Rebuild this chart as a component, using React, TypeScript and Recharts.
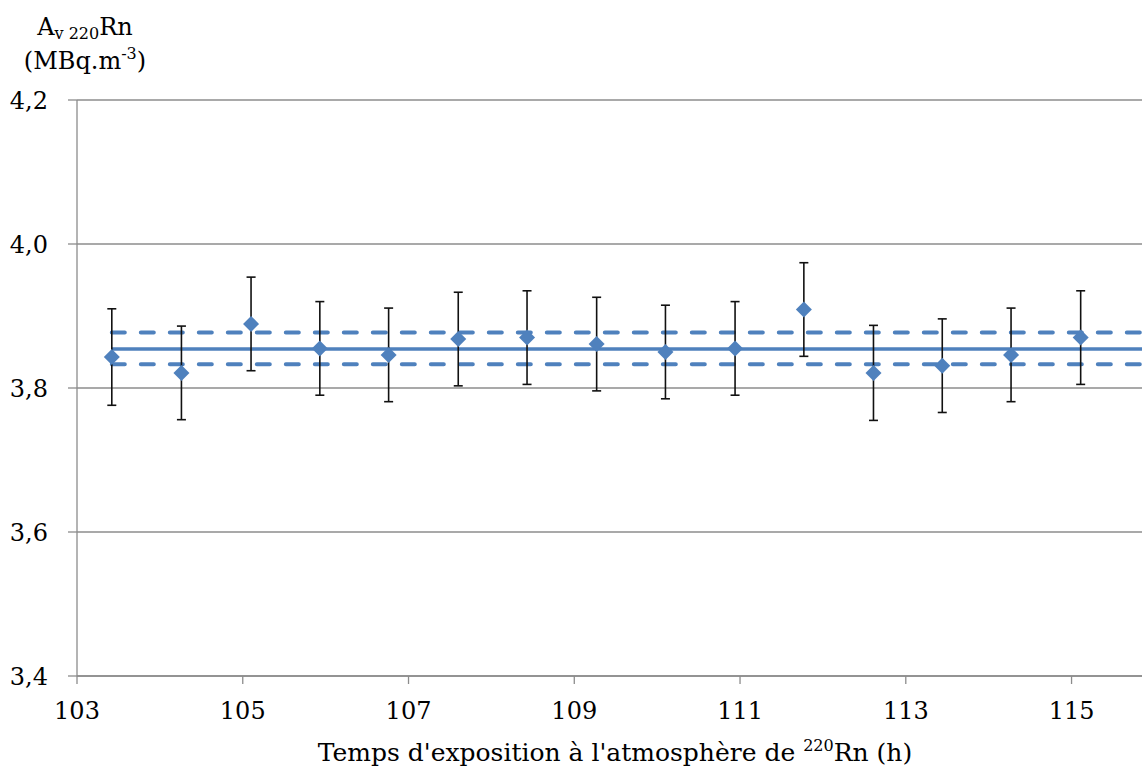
import React from 'react'
import {
  ComposedChart,
  Scatter,
  XAxis,
  YAxis,
  CartesianGrid,
  ErrorBar,
  ReferenceLine,
  Label,
} from 'recharts'

document.body.style.margin = '0'

// exposure time (h)
const exposureHours = [
  103.42, 104.26, 105.1, 105.93, 106.76, 107.6, 108.43, 109.27,
  110.1, 110.94, 111.77, 112.61, 113.44, 114.27, 115.11,
]
// volumic activity of 220Rn (MBq.m-3)
const activity = [
  3.843, 3.821, 3.889, 3.855, 3.846, 3.868, 3.87, 3.861,
  3.85, 3.855, 3.909, 3.821, 3.831, 3.846, 3.87,
]
// half width of each error bar
const activityError = [
  0.067, 0.065, 0.065, 0.065, 0.065, 0.065, 0.065, 0.065,
  0.065, 0.065, 0.065, 0.066, 0.065, 0.065, 0.065,
]

const meanActivity = 3.854
const meanUpper = 3.877
const meanLower = 3.833

const xTicks = [103, 105, 107, 109, 111, 113, 115]
const yTicks = [3.4, 3.6, 3.8, 4.0, 4.2]
const xMin = 103
const xMax = 115.85

const points = exposureHours.map((x, i) => ({ x, y: activity[i], err: activityError[i] }))

const BLUE = '#4F81BD'
const GRID = '#8C8C8C'
const FONT = 'DejaVu Serif'

const Diamond = (props: any) => {
  const { cx, cy } = props
  const r = 8
  return (
    <polygon
      points={`${cx},${cy - r} ${cx + r},${cy} ${cx},${cy + r} ${cx - r},${cy}`}
      fill={BLUE}
    />
  )
}

const YTitle = () => {
  const cx = 85
  return (
    <g fontFamily={FONT} fill="#000">
      <text x={cx} y={35} textAnchor="middle" fontSize={24}>
        <tspan>A</tspan>
        <tspan fontSize={16} dy={4}>v 220</tspan>
        <tspan dy={-4}>Rn</tspan>
      </text>
      <text x={cx} y={69} textAnchor="middle" fontSize={24}>
        <tspan>(MBq.m</tspan>
        <tspan fontSize={16} dy={-10}>-3</tspan>
        <tspan dy={10}>)</tspan>
      </text>
    </g>
  )
}

const XTitle = () => {
  const cx = 615
  return (
    <text x={cx} y={761} textAnchor="middle" fontSize={25} fontFamily={FONT} fill="#000">
      <tspan>Temps d'exposition à l'atmosphère de </tspan>
      <tspan fontSize={16} dy={-10}>220</tspan>
      <tspan dy={10}>Rn (h)</tspan>
    </text>
  )
}

export default function App() {
  return (
    <div style={{ width: 1142, height: 766, background: '#fff' }}>
      <ComposedChart
        width={1142}
        height={766}
        margin={{ top: 100, right: 0, bottom: 0, left: 0 }}
      >
        <CartesianGrid horizontal vertical={false} stroke={GRID} strokeWidth={1.3} />
        <XAxis
          type="number"
          dataKey="x"
          domain={[xMin, xMax]}
          ticks={xTicks}
          allowDataOverflow
          height={90}
          tickSize={8}
          tickMargin={18}
          axisLine={{ stroke: GRID, strokeWidth: 1.3 }}
          tickLine={{ stroke: GRID, strokeWidth: 1.3 }}
          tick={{ fill: '#000', fontSize: 24, fontFamily: FONT }}
        >
          <Label content={XTitle} />
        </XAxis>
        <YAxis
          type="number"
          dataKey="y"
          domain={[3.4, 4.2]}
          ticks={yTicks}
          width={77}
          tickSize={9}
          tickMargin={20}
          tickFormatter={(v: number) => v.toFixed(1).replace('.', ',')}
          axisLine={{ stroke: GRID, strokeWidth: 1.3 }}
          tickLine={{ stroke: GRID, strokeWidth: 1.3 }}
          tick={{ fill: '#000', fontSize: 24, fontFamily: FONT }}
        >
          <Label content={YTitle} />
        </YAxis>
        <ReferenceLine
          segment={[{ x: exposureHours[0], y: meanUpper }, { x: xMax, y: meanUpper }]}
          stroke={BLUE}
          strokeWidth={4}
          strokeDasharray="13 16"
          strokeLinecap="round"
        />
        <ReferenceLine
          segment={[{ x: exposureHours[0], y: meanLower }, { x: xMax, y: meanLower }]}
          stroke={BLUE}
          strokeWidth={4}
          strokeDasharray="13 16"
          strokeLinecap="round"
        />
        <ReferenceLine
          segment={[{ x: exposureHours[0], y: meanActivity }, { x: xMax, y: meanActivity }]}
          stroke={BLUE}
          strokeWidth={3.5}
        />
        <Scatter data={points} dataKey="y" shape={Diamond} isAnimationActive={false}>
          <ErrorBar dataKey="err" direction="y" width={4.5} stroke="#111" strokeWidth={1.6} />
        </Scatter>
      </ComposedChart>
    </div>
  )
}
